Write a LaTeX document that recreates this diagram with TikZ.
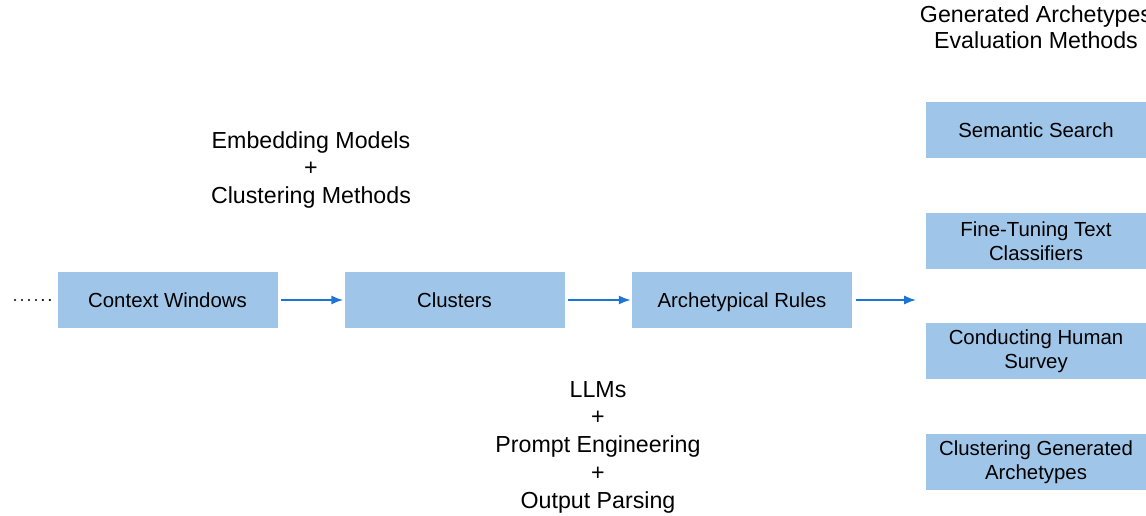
\documentclass[tikz,border=0pt]{standalone}
\usepackage{fontspec}
\setmainfont{Liberation Sans}
\usetikzlibrary{arrows.meta,positioning}
\definecolor{boxblue}{HTML}{9FC5E8}
\definecolor{arrowblue}{RGB}{28,117,212}

\begin{document}
\begin{tikzpicture}
\tikzstyle{every node}=[font=\fontsize{11.6}{13.7}\selectfont]
\tikzstyle{stage}=[rectangle, fill=boxblue, align=center, inner sep=0pt,
minimum width=4.4cm, minimum height=1.12cm]
\tikzstyle{flow}=[-{Latex[length=6.8pt,width=5.2pt]}, line width=1.1pt, draw=arrowblue,
shorten <=2pt, shorten >=0.5pt]
\tikzstyle{note}=[align=center, font=\fontsize{13.2}{15.8}\selectfont]

\useasboundingbox (0,0) rectangle (22.92,10.3);

% pipeline
\node[stage] at (3.35, 4.3) (windows) {Context Windows};
\node[stage] at (9.09, 4.3) (clusters) {Clusters};
\node[stage, text depth=0pt] at (14.84, 4.3) (rules) {Archetypical Rules};
\coordinate (dots) at (0.3, 4.3);
\coordinate (evalin) at (18.34, 4.3);

% evaluation methods
\node[note, font=\fontsize{13.2}{14.8}\selectfont] at (20.72, 9.76) (evaltitle) {
Generated Archetypes\\
Evaluation Methods
};
\node[stage] at (20.72, 7.69) (search) {Semantic Search};
\node[stage] at (20.72, 5.48) (finetune) {Fine-Tuning Text\\Classifiers};
\node[stage] at (20.72, 3.28) (survey) {Conducting Human\\Survey};
\node[stage] at (20.72, 1.06) (clustergen) {Clustering Generated\\Archetypes};

% method notes
\node[note] at (6.22, 6.9) (embed) {
Embedding Models\\
+\\
Clustering Methods
};
\node[note] at (11.96, 1.36) (llms) {
LLMs\\
+\\
Prompt Engineering\\
+\\
Output Parsing
};

\draw[line width=1.4pt, line cap=round, dash pattern=on 0pt off 3.98pt] (dots) -- ++(0.72, 0);
\draw[flow] (windows.east) -- (clusters.west);
\draw[flow] (clusters.east) -- (rules.west);
\draw[flow] (rules.east) -- (evalin);

\end{tikzpicture}
\end{document}
